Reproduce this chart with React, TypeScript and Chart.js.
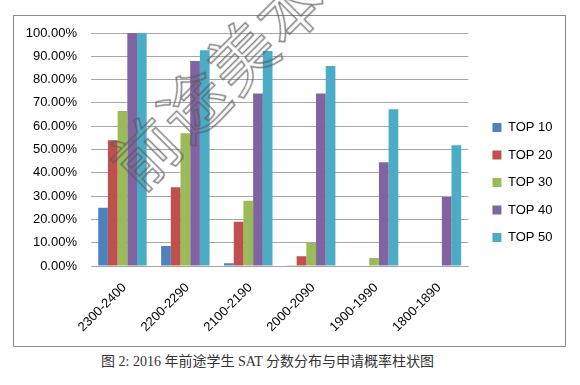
import React, { useEffect, useRef } from "react";
import { Chart, registerables } from "chart.js";

Chart.register(...registerables);

const categories = ["2300-2400", "2200-2290", "2100-2190", "2000-2090", "1900-1990", "1800-1890"];
const seriesNames = ["TOP 10", "TOP 20", "TOP 30", "TOP 40", "TOP 50"];
const top10 = [25.0, 8.6, 1.2, 0.3, 0, 0];
const top20 = [54.0, 33.8, 19.0, 4.2, 0, 0];
const top30 = [66.5, 57.0, 28.0, 10.0, 3.4, 0];
const top40 = [100, 88.0, 74.0, 74.0, 44.5, 29.6];
const top50 = [100, 92.6, 92.3, 85.8, 67.3, 51.8];
const colors = ["#4F81BD", "#C0504D", "#9BBB59", "#8064A2", "#4BACC6"];
const yTicks = [0, 10, 20, 30, 40, 50, 60, 70, 80, 90, 100];
const caption = "图 2: 2016 年前途学生 SAT 分数分布与申请概率柱状图";
const watermark = "前途美本";

export default function App() {
  const ref = useRef<HTMLCanvasElement | null>(null);
  useEffect(() => {
    if (!ref.current) return;
    const values = [top10, top20, top30, top40, top50];
    const chart = new Chart(ref.current, {
      type: "bar",
      data: {
        labels: categories,
        datasets: seriesNames.map((n, i) => ({
          label: n,
          data: values[i],
          backgroundColor: colors[i],
          borderWidth: 0,
          barPercentage: 1,
          categoryPercentage: 0.77,
        })),
      },
      options: {
        animation: false,
        responsive: false,
        maintainAspectRatio: false,
        layout: { padding: { top: 17, right: 2.5, left: 0, bottom: 14 } },
        plugins: {
          tooltip: { enabled: false },
          legend: {
            position: "right",
            labels: {
              boxWidth: 9,
              boxHeight: 9,
              padding: 14.5,
              color: "#000",
              font: { family: "Liberation Sans, Arial", size: 13 },
            },
          },
        },
        scales: {
          x: {
            grid: { display: false, drawTicks: false },
            border: { color: "#a6a6a6" },
            ticks: {
              minRotation: 45,
              maxRotation: 45,
              padding: 14,
              labelOffset: 2,
              color: "#000",
              font: { family: "Liberation Sans, Arial", size: 13 },
            },
            afterFit: (s: any) => {
              s.height = 66;
            },
          },
          y: {
            min: 0,
            max: 100,
            grid: { color: "#a6a6a6", drawTicks: false },
            border: { display: false },
            afterBuildTicks: (s: any) => {
              s.ticks = yTicks.map((v) => ({ value: v }));
            },
            ticks: {
              padding: 14,
              color: "#000",
              font: { family: "Liberation Sans, Arial", size: 13 },
              callback: (v: any) => Number(v).toFixed(2) + "%",
            },
            afterFit: (s: any) => {
              s.width = 77;
              s.paddingTop = 0;
              s.paddingBottom = 0;
            },
          },
          gap: {
            type: "linear",
            position: "right",
            display: true,
            grid: { display: false, drawTicks: false },
            border: { display: false },
            ticks: { display: false },
            afterFit: (s: any) => {
              s.width = 9.5;
              s.paddingTop = 0;
              s.paddingBottom = 0;
            },
          },
        },
      },
    });
    return () => chart.destroy();
  }, []);

  return (
    <div style={{ position: "fixed", left: 0, top: 0, width: 580, height: 385, background: "#fff", overflow: "hidden" }}>
      <div
        style={{
          position: "absolute",
          left: 13,
          top: 15,
          width: 551,
          height: 330,
          border: "1px solid #8c8c8c",
        }}
      >
        <canvas ref={ref} width={551} height={330} style={{ display: "block", width: 551, height: 330 }} />
      </div>
      <div
        style={{
          position: "absolute",
          left: 96,
          top: 150,
          fontFamily: "Noto Sans CJK SC",
          fontSize: 66,
          lineHeight: "66px",
          letterSpacing: 2,
          color: "transparent",
          WebkitTextStroke: "1.5px rgba(90,90,90,0.75)",
          transform: "rotate(-45deg)",
          transformOrigin: "0 0",
          whiteSpace: "nowrap",
          pointerEvents: "none",
        } as any}
      >
        {watermark}
      </div>
      <div
        style={{
          position: "absolute",
          left: 101,
          top: 353,
          fontFamily: "Liberation Serif, Noto Sans CJK SC",
          fontSize: 14,
          lineHeight: "17px",
          color: "#333",
          whiteSpace: "nowrap",
        }}
      >
        {caption}
      </div>
    </div>
  );
}
